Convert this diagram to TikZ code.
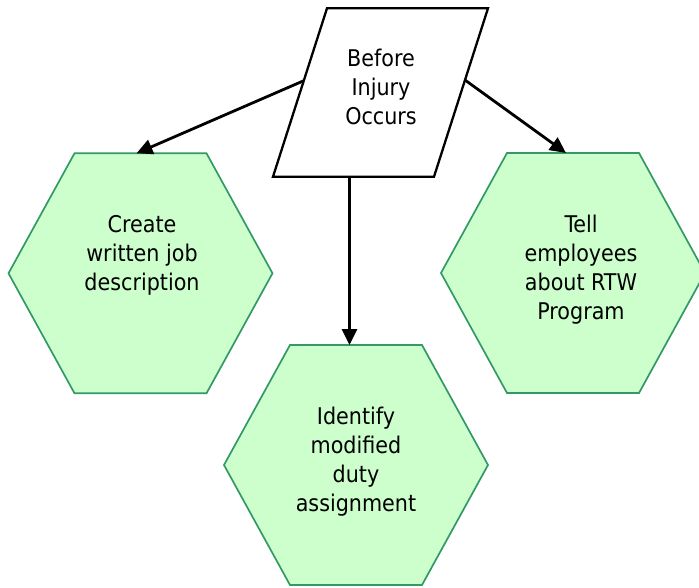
\documentclass[tikz,border=0pt]{standalone}
\usepackage{fontspec}
\setmainfont{DejaVu Sans Condensed}
\usetikzlibrary{calc,arrows.meta}
\definecolor{hexfill}{RGB}{204,255,204}
\definecolor{hexedge}{RGB}{51,153,102}
\tikzset{
 hexbox/.style={draw=none,inner sep=0pt,outer sep=0pt,minimum width=264pt,minimum height=240pt},
 parbox/.style={draw=none,inner sep=0pt,outer sep=0pt,minimum width=215pt,minimum height=168.4pt},
 lbl/.style={align=center,inner sep=0pt,font=\fontsize{23}{29}\selectfont},
 hexline/.style={draw=hexedge,fill=hexfill,line width=1.7pt,line join=miter},
 plline/.style={draw=black,fill=white,line width=2.3pt,line join=miter},
 arr/.style={line width=2.8pt,-{Triangle[length=16pt,width=15pt]}}
}
\newcommand\hexof[1]{\path[hexline] (#1.west) -- ($(#1.north west)!0.25!(#1.north east)$) -- ($(#1.north west)!0.75!(#1.north east)$) -- (#1.east) -- ($(#1.south west)!0.75!(#1.south east)$) -- ($(#1.south west)!0.25!(#1.south east)$) -- cycle;}
\begin{document}
\begin{tikzpicture}[x=1pt,y=-1pt]
\useasboundingbox (0,0) rectangle (699,588);
% parallelogram
\node[parbox] (p) at (380.5,92.5) {};
\path[plline] ([xshift=54pt]p.north west) -- (p.north east) -- ([xshift=-54pt]p.south east) -- (p.south west) -- cycle;
\node[lbl] (pt) at (381,87) {Before\\Injury\\Occurs};
% hexagons
\node[hexbox] (h1) at (140.5,273.3) {};
\hexof{h1}
\node[lbl] (h1t) at (142,255) {Create\\written job\\description};
\node[hexbox] (h3) at (573,273) {};
\hexof{h3}
\node[lbl] (h3t) at (581,270) {Tell\\employees\\about RTW\\Program};
\node[hexbox] (h2) at (356,465) {};
\hexof{h2}
\node[lbl] (h2t) at (356,462) {Identify\\modified\\duty\\assignment};
% connector start points on parallelogram edges
\coordinate (pl) at ($([xshift=54pt]p.north west)!0.43!(p.south west)$);
\coordinate (pr) at ($(p.north east)!0.426!([xshift=-54pt]p.south east)$);
\coordinate (pb) at ($(p.south west)!0.475!([xshift=-54pt]p.south east)$);
\draw[arr] (pl) -- ([xshift=-4pt]h1.north);
\draw[arr] (pr) -- ([xshift=-7pt]h3.north);
\draw[arr] (pb) -- (pb |- h2.north);
\end{tikzpicture}
\end{document}
